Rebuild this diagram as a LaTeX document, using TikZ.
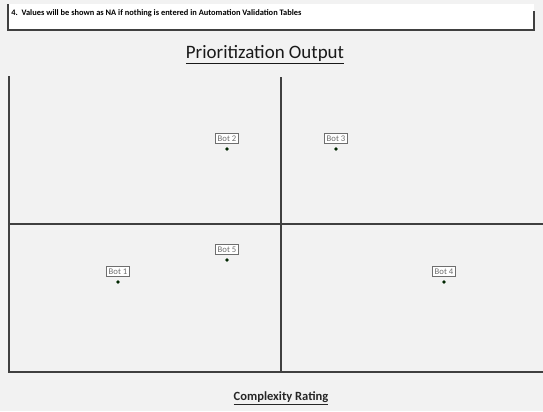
\documentclass[tikz,border=0pt]{standalone}
\usepackage{fontspec}
\setmainfont{Carlito}
\usetikzlibrary{positioning}
\definecolor{pagebg}{RGB}{242,242,242}
\definecolor{axisgray}{RGB}{64,64,64}
\definecolor{labelgray}{RGB}{110,110,110}
\tikzset{
  botlabel/.style={draw=labelgray,fill=white,line width=0.6pt,inner xsep=1.4pt,inner ysep=1.8pt,font=\fontsize{6.5}{7.5}\selectfont,text=labelgray},
  botdot/.style={circle,fill=black!85!green,inner sep=0pt,minimum size=2.8pt},
  axisline/.style={draw=axisgray,line width=1pt}
}
\begin{document}
\begin{tikzpicture}[x=0.75pt,y=0.75pt,yscale=-1,xscale=1]
\useasboundingbox[fill=pagebg] (0,0) rectangle (543,411);

%Shape: Note box
\draw [fill=white,draw=none] (8,4) rectangle (534,30);
\draw [line width=0.9pt,draw=black!75] (8,4) -- (8,30) -- (534,30) -- (534,11);

% Text Node
\node (note) [anchor=west,inner sep=0.75pt,font=\fontsize{6.3}{7}\selectfont\bfseries] at (10,13) {4.\ \ Values will be shown as NA if nothing is entered in Automation Validation Tables};

% Text Node
\node (title) [inner sep=0.75pt,font=\fontsize{14.2}{16}\selectfont,text=black!90] at (265,55) {\underline{Prioritization Output}};

%Straight Lines
\coordinate (tl) at (9,76);
\coordinate (bl) at (9,372);
\coordinate (br) at (543,372);
\coordinate (tm) at (281,77);
\coordinate (bm) at (281,372);
\coordinate (ml) at (9,224);
\coordinate (mr) at (543,224);
\draw [axisline] (tl) -- (bl) -- (br);
\draw [axisline] (tm) -- (bm);
\draw [axisline] (ml) -- (mr);

%Bots
\node (d2) [botdot] at (227,149) {};
\node (b2) [botlabel,above=2pt of d2] {Bot 2};
\node (d3) [botdot] at (336,149) {};
\node (b3) [botlabel,above=2pt of d3] {Bot 3};
\node (d5) [botdot] at (227,260) {};
\node (b5) [botlabel,above=2pt of d5] {Bot 5};
\node (d1) [botdot] at (118,282) {};
\node (b1) [botlabel,above=2pt of d1] {Bot 1};
\node (d4) [botdot] at (444,282) {};
\node (b4) [botlabel,above=2pt of d4] {Bot 4};

% Text Node
\node (xlabel) [inner sep=0.75pt,font=\fontsize{9.4}{11}\selectfont\bfseries,text=black!85] at (281,398) {\underline{Complexity Rating}};

\end{tikzpicture}
\end{document}
